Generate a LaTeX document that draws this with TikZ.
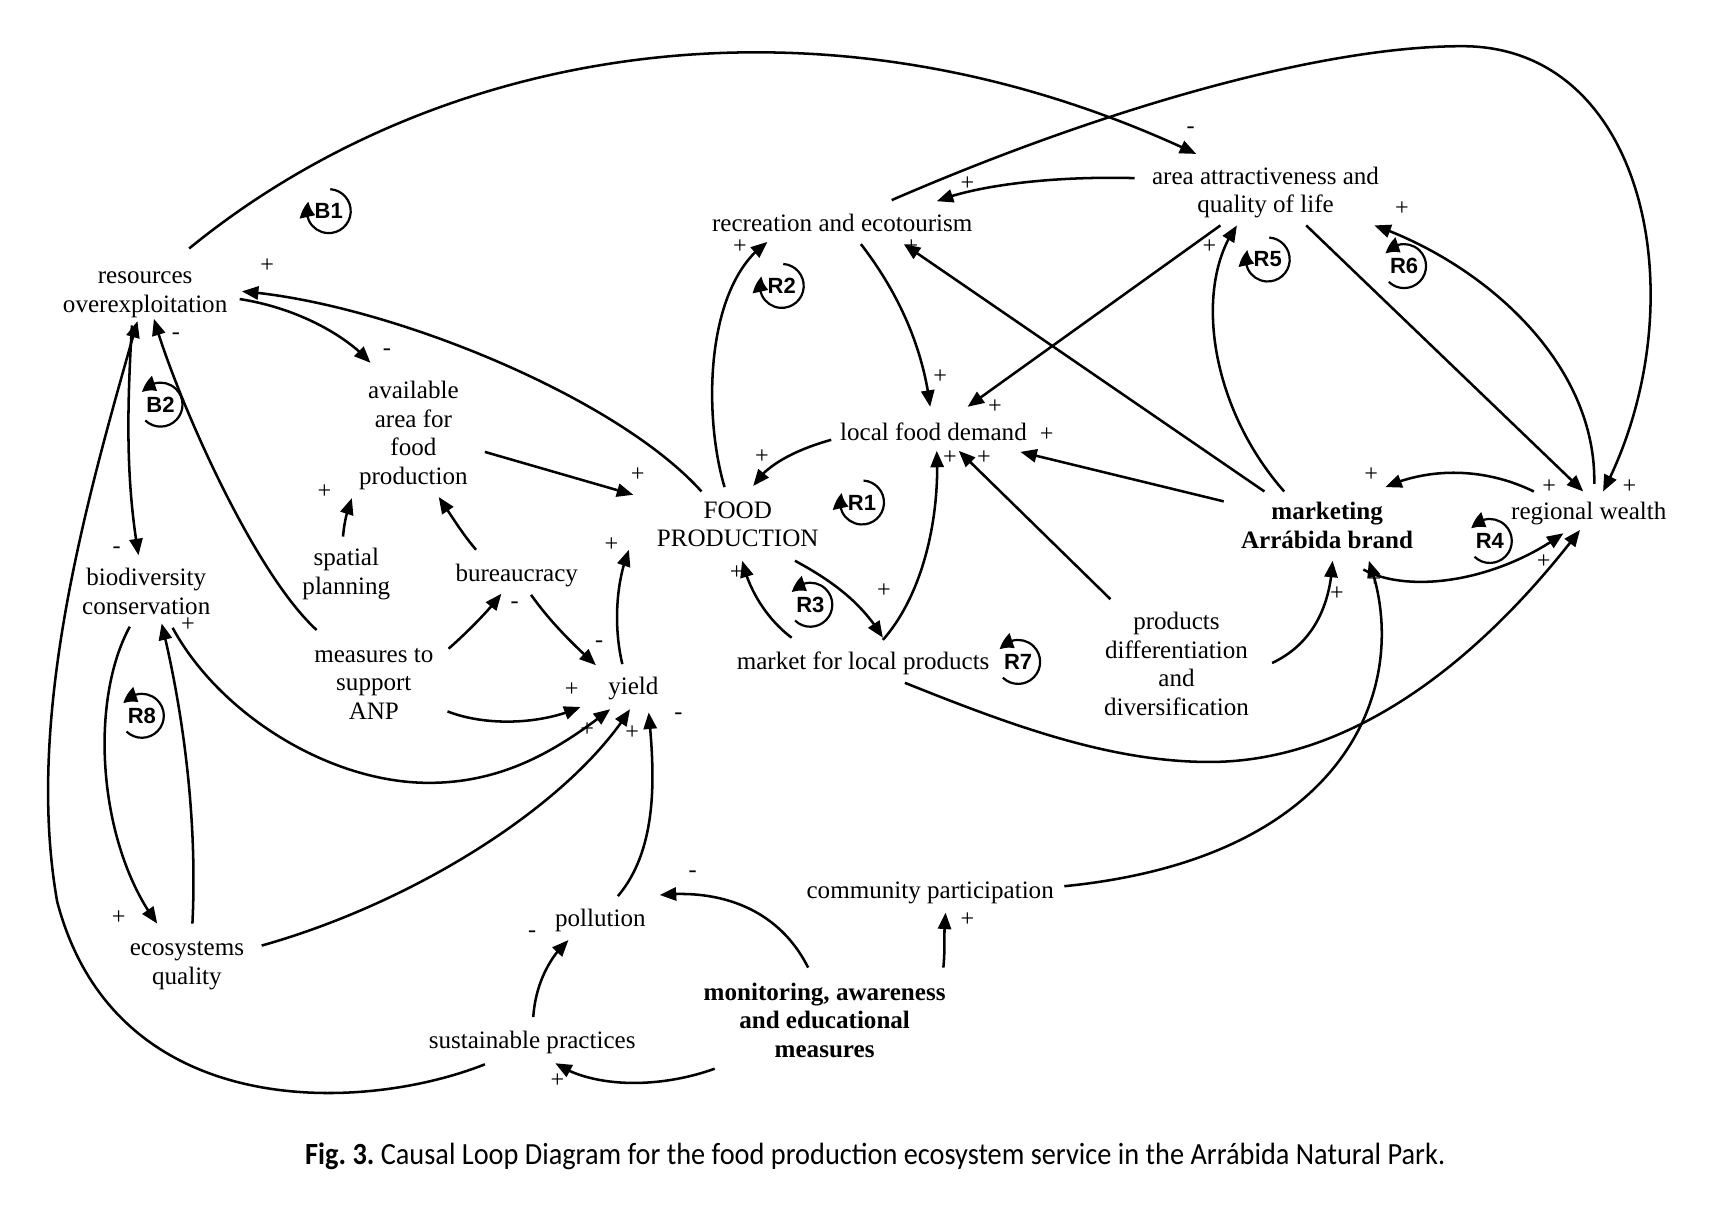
\documentclass[tikz,border=0pt]{standalone}
\usepackage{fontspec}
\setmainfont{Liberation Serif}
\newfontfamily\loopfont{Liberation Sans}
\newfontfamily\capfont[FakeStretch=0.92]{Carlito}
\usetikzlibrary{arrows.meta,calc,bending}
\tikzset{
  var/.style={align=center, font=\fontsize{11.4}{13}\selectfont, inner sep=0pt},
  bvar/.style={align=center, font=\fontsize{11.4}{13}\selectfont\bfseries, inner sep=0pt},
  sgn/.style={font=\fontsize{11}{13}\selectfont, inner sep=0pt},
  link/.style={line width=1.15pt, -{Triangle[length=7.5pt,width=6pt]}},
  looplbl/.style={font=\loopfont\fontsize{10}{11}\selectfont\bfseries, inner sep=0pt},
  looparc/.style={line width=1pt, -{Triangle[length=7pt,width=7pt,bend]}},
}
\newcommand\cwloop[3]{%
  \node[looplbl] (#1) at (#2) {#3};
  \draw[looparc] ([shift={(86:10pt)}]#1.center) arc[start angle=86,end angle=-205,radius=10pt];}
\newcommand\ccwloop[3]{%
  \node[looplbl] (#1) at (#2) {#3};
  \draw[looparc] ([shift={(-134:10pt)}]#1.center) arc[start angle=-134,end angle=146,radius=10pt];}
\begin{document}
\begin{tikzpicture}[x=0.5pt,y=-0.5pt]
\useasboundingbox (0,0) rectangle (1568,1099);
% nodes
\node[var] (res) at (132,268) {resources\\overexploitation};
\node[var] (avail) at (376,396) {available\\area for\\food\\production};
\node[var] (spatial) at (315,522) {spatial\\planning};
\node[var] (bureau) at (470,523) {bureaucracy};
\node[var] (measures) at (340,622) {measures to\\support\\ANP};
\node[var] (yield) at (576,626) {yield};
\node[var] (biodiv) at (133,538) {biodiversity\\conservation};
\node[var] (ecoq) at (170,878) {ecosystems\\quality};
\node[var] (poll) at (546,837) {pollution};
\node[var] (sust) at (484,948) {sustainable practices};
\node[bvar] (monit) at (750,928) {monitoring, awareness\\and educational\\measures};
\node[var] (comm) at (846,812) {community participation};
\node[var] (food) at (671,477) {FOOD\\PRODUCTION};
\node[var] (recr) at (766,203) {recreation and ecotourism};
\node[var] (demand) at (849,393) {local food demand};
\node[var] (market) at (785,603) {market for local products};
\node[var] (prodiff) at (1070,604) {products\\differentiation\\and\\diversification};
\node[var] (attract) at (1151,175) {area attractiveness and\\quality of life};
\node[bvar] (mkt) at (1207,478) {marketing\\Arr\'abida brand};
\node[var] (wealth) at (1445,467) {regional wealth};
% loops
\cwloop{lB1}{299,192}{B1}
\ccwloop{lB2}{146,368}{B2}
\cwloop{lR1}{784,457}{R1}
\cwloop{lR2}{711,260}{R2}
\ccwloop{lR3}{737,550}{R3}
\ccwloop{lR4}{1355,492}{R4}
\cwloop{lR5}{1153,236}{R5}
\ccwloop{lR6}{1277,242}{R6}
\ccwloop{lR7}{926,602}{R7}
\ccwloop{lR8}{129,651}{R8}
% links
\draw[link] ($(res)+(40,-42)$) .. controls (400,40) and (750,-20) .. ($(attract)+(-63,-35)$);
\draw[link] ($(recr)+(45,-21)$) .. controls (1000,100) and (1200,42) .. (1330,42) .. controls (1500,42) and (1545,280) .. ($(wealth)+(13,-20)$);
\draw[link] ($(attract)+(-119,-13)$) .. controls (960,160) and (890,168) .. ($(recr)+(86,-20)$);
\draw[link] ($(attract)+(37,30)$) -- ($(wealth)+(-5,-20)$);
\draw[link] ($(wealth)+(5,-27)$) .. controls (1452,330) and (1350,240) .. ($(attract)+(99,30)$);
\draw[link] ($(mkt)+(-39,-31)$) .. controls (1100,370) and (1085,260) .. ($(attract)+(-26,30)$);
\draw[link] ($(attract)+(-41,30)$) -- ($(demand)+(31,-23)$);
\draw[link] ($(recr)+(17,19)$) .. controls (820,270) and (840,320) .. ($(demand)+(-3,-23)$);
\draw[link] ($(mkt)+(-57,-31)$) -- ($(recr)+(56,19)$);
\draw[link] ($(food)+(-12,-34)$) .. controls (640,380) and (640,260) .. ($(recr)+(-68,17)$);
\draw[link] ($(demand)+(-93,7)$) .. controls (720,410) and (695,425) .. ($(food)+(14,-35)$);
\draw[link] ($(food)+(-33,-30)$) .. controls (560,360) and (350,275) .. ($(res)+(88,-3)$);
\draw[link] ($(res)+(86,4)$) .. controls (270,280) and (315,305) .. ($(avail)+(-39,-66)$);
\draw[link] ($(avail)+(65,15)$) -- ($(food)+(-95,-27)$);
\draw[link] ($(spatial)+(-3,-34)$) .. controls (313,475) and (316,463) .. ($(avail)+(-56,57)$);
\draw[link] ($(bureau)+(-37,-23)$) .. controls (420,485) and (410,468) .. ($(avail)+(23,56)$);
\draw[link] ($(measures)+(68,-32)$) .. controls (425,575) and (445,555) .. ($(bureau)+(-14,17)$);
\draw[link] ($(bureau)+(13,18)$) .. controls (500,565) and (520,585) .. ($(yield)+(-34,-21)$);
\draw[link] ($(yield)+(-10,-22)$) .. controls (558,570) and (560,530) .. ($(food)+(-99,23)$);
\draw[link] ($(measures)+(67,25)$) .. controls (440,660) and (490,660) .. ($(yield)+(-48,17)$);
\draw[link] ($(measures)+(-52,-49)$) .. controls (230,520) and (160,360) .. ($(res)+(8,22)$);
\draw[link] ($(res)+(-12,28)$) .. controls (115,380) and (115,440) .. ($(biodiv)+(-7,-33)$);
\draw[link] ($(biodiv)+(24,33)$) .. controls (200,650) and (300,712) .. (390,712) .. controls (460,712) and (510,680) .. ($(yield)+(-21,19)$);
\draw[link] ($(biodiv)+(-15,32)$) .. controls (80,640) and (90,770) .. ($(ecoq)+(-27,-38)$);
\draw[link] ($(ecoq)+(5,-38)$) .. controls (180,740) and (165,640) .. ($(biodiv)+(14,29)$);
\draw[link] ($(ecoq)+(68,-18)$) .. controls (380,820) and (520,730) .. ($(yield)+(-3,19)$);
\draw[link] ($(poll)+(16,-22)$) .. controls (600,770) and (595,700) .. ($(yield)+(14,22)$);
\draw[link] ($(sust)+(1,-23)$) .. controls (487,895) and (500,870) .. ($(poll)+(-29,18)$);
\draw[link] ($(sust)+(-43,20)$) .. controls (330,1012) and (105,1022) .. (52,820) .. controls (22,650) and (80,450) .. ($(res)+(-7,24)$);
\draw[link] ($(monit)+(-15,-48)$) .. controls (710,830) and (660,808) .. ($(poll)+(54,-23)$);
\draw[link] ($(monit)+(-100,44)$) .. controls (600,990) and (540,990) .. ($(sust)+(21,19)$);
\draw[link] ($(monit)+(108,-48)$) .. controls (860,860) and (858,845) .. ($(comm)+(14,18)$);
\draw[link] ($(comm)+(122,-6)$) .. controls (1230,780) and (1285,620) .. ($(mkt)+(38,32)$);
\draw[link] ($(prodiff)+(87,-1)$) .. controls (1195,585) and (1210,550) .. ($(mkt)+(5,32)$);
\draw[link] ($(prodiff)+(-60,-59)$) -- ($(demand)+(23,17)$);
\draw[link] ($(mkt)+(-94,-22)$) -- ($(demand)+(79,18)$);
\draw[link] ($(market)+(18,-21)$) .. controls (840,540) and (855,470) .. ($(demand)+(3,17)$);
\draw[link] ($(food)+(52,33)$) .. controls (760,530) and (785,550) .. ($(market)+(18,-23)$);
\draw[link] ($(market)+(-65,-23)$) .. controls (700,565) and (682,540) .. ($(food)+(4,33)$);
\draw[link] ($(market)+(38,18)$) .. controls (920,660) and (1010,693) .. (1100,693) .. controls (1250,693) and (1370,570) .. ($(wealth)+(-8,15)$);
\draw[link] ($(mkt)+(33,40)$) .. controls (1280,540) and (1360,530) .. ($(wealth)+(-23,18)$);
\draw[link] ($(wealth)+(-50,-20)$) .. controls (1350,425) and (1300,425) .. ($(mkt)+(53,-35)$);
% polarity signs
\foreach \t/\x/\y [count=\i] in {+/243/242, -/352/320, +/580/432, +/295/447, -/468/550, -/545/586, +/556/495, +/520/627, -/160/306, -/106/500, +/534/664, +/108/835, +/171/568, +/575/666, -/617/651, -/484/850, -/630/795, +/507/983, +/880/836, +/1250/527, +/1216/540, +/895/416, +/952/395, +/864/416, +/804/537, +/670/521, +/1404/511, +/1247/432, +/1409/443, +/1482/443, +/1275/190, +/1100/224, +/905/370, +/855/343, +/829/224, +/673/224, +/693/415, +/880/167, -/1083/118}
  \node[sgn] (sg\i) at (\x,\y) {\t};
% caption
\node[font=\capfont\fontsize{14}{16}\selectfont, inner sep=0pt] (cap) at (796,1052) {\textbf{Fig.\ 3.}\ Causal Loop Diagram for the food production ecosystem service in the Arr\'abida Natural Park.};
\end{tikzpicture}
\end{document}
